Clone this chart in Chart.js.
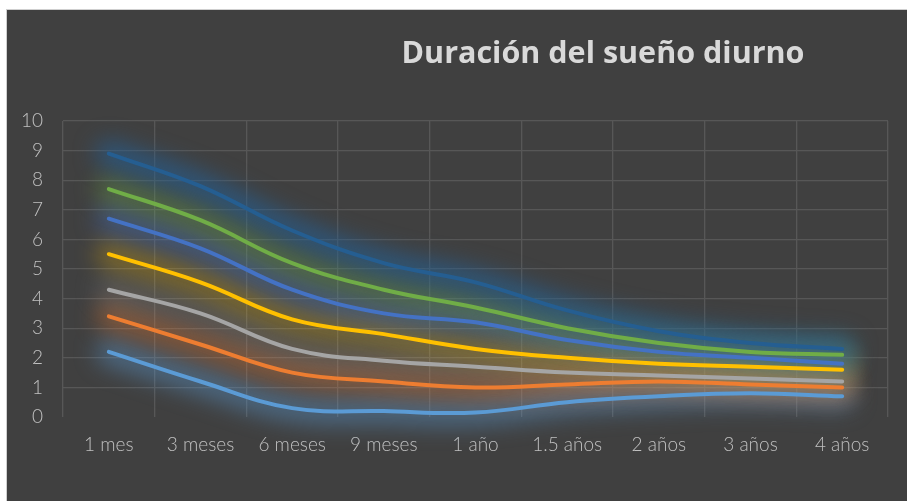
<!DOCTYPE html>
<html>
<head>
<meta charset="utf-8">
<script src="https://cdn.jsdelivr.net/npm/chart.js@4/dist/chart.umd.min.js"></script>
<style>
  html, body { margin: 0; padding: 0; background: #ffffff; }
  #frame {
    position: absolute; left: 6px; top: 9px;
    width: 901px; height: 492px;
    border-left: 1px solid #cfcfcf; border-top: 1px solid #cfcfcf;
    box-sizing: border-box; background: #404040;
  }
  #wrap { position: absolute; left: 0; top: 0; width: 900px; height: 491px; }
</style>
</head>
<body>
<div id="frame"><div id="wrap"><canvas id="c" width="900" height="491"></canvas></div></div>
<script>
const titleText = "Duración del sueño diurno";
const categories = ["1 mes", "3 meses", "6 meses", "9 meses", "1 año", "1.5 años", "2 años", "3 años", "4 años"];
const yTicks = [0, 1, 2, 3, 4, 5, 6, 7, 8, 9, 10];

const serieAzulOscuro   = [8.9, 7.8, 6.3, 5.2, 4.55, 3.6, 2.9, 2.5, 2.3];
const serieVerde        = [7.7, 6.65, 5.2, 4.3, 3.7, 3.0, 2.5, 2.2, 2.1];
const serieAzul         = [6.7, 5.7, 4.3, 3.5, 3.2, 2.6, 2.2, 2.0, 1.8];
const serieAmarilla     = [5.5, 4.55, 3.3, 2.8, 2.3, 2.0, 1.8, 1.7, 1.6];
const serieGris         = [4.3, 3.5, 2.3, 1.9, 1.7, 1.5, 1.4, 1.3, 1.2];
const serieNaranja      = [3.4, 2.45, 1.5, 1.2, 1.0, 1.1, 1.2, 1.1, 1.0];
const serieCelesteClaro = [2.2, 1.2, 0.3, 0.2, 0.15, 0.5, 0.7, 0.8, 0.7];

const seriesList = [
  { data: serieAzulOscuro,   color: "#255E91", glow: "rgba(37,94,145,0.7)" },
  { data: serieVerde,        color: "#70AD47", glow: "rgba(112,173,71,0.4)" },
  { data: serieAzul,         color: "#4472C4", glow: "rgba(68,114,196,0.45)" },
  { data: serieAmarilla,     color: "#FFC000", glow: "rgba(255,192,0,0.32)" },
  { data: serieGris,         color: "#A5A5A5", glow: "rgba(165,165,165,0.25)" },
  { data: serieNaranja,      color: "#ED7D31", glow: "rgba(237,125,49,0.4)" },
  { data: serieCelesteClaro, color: "#5B9BD5", glow: "rgba(91,155,213,0.45)" }
];

const glowPlugin = {
  id: "glow",
  beforeDatasetsDraw(chart) {
    const ctx = chart.ctx;
    for (let i = chart.data.datasets.length - 1; i >= 0; i--) {
      const meta = chart.getDatasetMeta(i);
      const line = meta.dataset;
      if (!line) continue;
      const orig = line.options;
      line.options = Object.assign({}, orig, {
        borderWidth: 26,
        borderColor: chart.data.datasets[i].glowColor
      });
      ctx.save();
      ctx.filter = "blur(11px)";
      line.draw(ctx, chart.chartArea);
      ctx.restore();
      line.options = orig;
    }
  }
};

const titlePlugin = {
  id: "customTitle",
  afterDraw(chart) {
    const ctx = chart.ctx;
    ctx.save();
    const fam = "'Open Sans', 'Noto Sans', sans-serif";
    ctx.font = "bold 100px " + fam;
    const w100 = ctx.measureText(titleText).width;
    const size = 100 * 403 / w100;
    ctx.font = "bold " + size.toFixed(2) + "px " + fam;
    ctx.fillStyle = "#d9d9d9";
    ctx.textAlign = "center";
    ctx.textBaseline = "alphabetic";
    ctx.fillText(titleText, 596, 53);
    ctx.restore();
  }
};

const tickFont = "Lato, 'Open Sans', sans-serif";

new Chart(document.getElementById("c"), {
  type: "line",
  data: {
    labels: categories,
    datasets: seriesList.map(s => ({
      data: s.data,
      borderColor: s.color,
      backgroundColor: s.color,
      glowColor: s.glow,
      borderWidth: 4,
      borderCapStyle: "round",
      borderJoinStyle: "round",
      pointRadius: 0,
      pointHoverRadius: 0,
      tension: 0.4,
      fill: false,
      clip: false
    }))
  },
  options: {
    responsive: false,
    animation: false,
    events: [],
    layout: { padding: { top: 111, right: 19, left: 0, bottom: 0 } },
    plugins: { legend: { display: false }, tooltip: { enabled: false }, title: { display: false } },
    scales: {
      x: {
        type: "category",
        offset: true,
        grid: { color: "#575757", lineWidth: 1.3, drawTicks: false, offset: true },
        border: { display: false },
        ticks: {
          color: "#c0c0c0",
          font: { family: tickFont, size: 19, weight: 300 },
          padding: 16,
          maxRotation: 0,
          autoSkip: false
        },
        afterFit(scale) { scale.height = 84; }
      },
      y: {
        min: 0, max: 10,
        afterBuildTicks(scale) { scale.ticks = yTicks.map(v => ({ value: v })); },
        grid: {
          color: (c) => (c.tick && c.tick.value === 0) ? "rgba(0,0,0,0)" : "#575757",
          lineWidth: 1.3,
          drawTicks: false
        },
        border: { display: false },
        ticks: {
          color: "#c0c0c0",
          font: { family: tickFont, size: 19, weight: 300 },
          padding: 20
        },
        afterFit(scale) { scale.width = 56; }
      }
    }
  },
  plugins: [glowPlugin, titlePlugin]
});
</script>
</body>
</html>
